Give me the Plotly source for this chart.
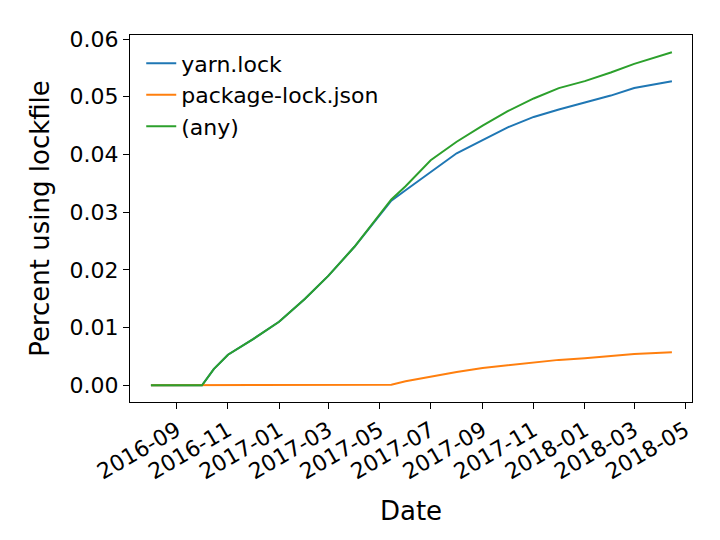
import plotly.graph_objects as go

dates = ["2016-08-01", "2016-09-01", "2016-10-01", "2016-10-15", "2016-11-01", "2016-12-01",
         "2017-01-01", "2017-02-01", "2017-03-01", "2017-04-01", "2017-05-01",
         "2017-05-15", "2017-06-01", "2017-07-01", "2017-08-01", "2017-09-01",
         "2017-10-01", "2017-11-01", "2017-12-01", "2018-01-01", "2018-02-01",
         "2018-03-01", "2018-04-15"]
yarn = [0, 0, 0, 0.0028, 0.0053, 0.008, 0.011, 0.015, 0.019, 0.024, 0.0295,
        0.032, 0.0338, 0.037, 0.0402, 0.0425, 0.0447, 0.0465, 0.0478, 0.049,
        0.0502, 0.0515, 0.0527]
pkg_lock = [0, 0, 0, 0, 0, 0, 0, 0, 0, 0, 0,
            0.0001, 0.0007, 0.0015, 0.0023, 0.003, 0.0035, 0.004, 0.0044, 0.0047,
            0.0051, 0.0054, 0.0057]
any_lock = [0, 0, 0, 0.0028, 0.0053, 0.008, 0.011, 0.015, 0.019, 0.024, 0.0295,
            0.0322, 0.0345, 0.039, 0.0422, 0.045, 0.0475, 0.0497, 0.0515, 0.0527,
            0.0542, 0.0557, 0.0577]
tick_dates = ["2016-09-01", "2016-11-01", "2017-01-01", "2017-03-01", "2017-05-01",
              "2017-07-01", "2017-09-01", "2017-11-01", "2018-01-01", "2018-03-01",
              "2018-05-01"]
tick_labels = [d[:7] for d in tick_dates]

fig = go.Figure()
for name, ys, color in [("yarn.lock", yarn, "#1f77b4"),
                        ("package-lock.json", pkg_lock, "#ff7f0e"),
                        ("(any)", any_lock, "#2ca02c")]:
    fig.add_trace(go.Scatter(x=dates, y=ys, mode="lines", name=name,
                             line=dict(color=color, width=2)))

axis_style = dict(showline=True, mirror=True, linecolor="black", linewidth=1,
                  ticks="outside", ticklen=6, tickcolor="black", showgrid=False,
                  zeroline=False, tickfont=dict(size=22))
fig.update_layout(
    width=720, height=540, template="none",
    font=dict(family="DejaVu Sans", size=22, color="black"),
    margin=dict(l=122, r=36, t=27, b=146),
    plot_bgcolor="white", paper_bgcolor="white",
    xaxis=dict(**axis_style, tickvals=tick_dates, ticktext=tick_labels, tickangle=-30,
               range=["2016-07-07", "2018-05-09"],
               title=dict(text="Date", standoff=18)),
    yaxis=dict(**axis_style, range=[-0.0029, 0.0607], tickvals=[0, 0.01, 0.02, 0.03, 0.04, 0.05, 0.06],
               tickformat=".2f", title=dict(text="Percent using lockfile", standoff=12)),
    legend=dict(x=0.02, y=0.98, xanchor="left", yanchor="top", bgcolor="rgba(0,0,0,0)",
                font=dict(size=22)),
)
fig.write_html("out.html")
